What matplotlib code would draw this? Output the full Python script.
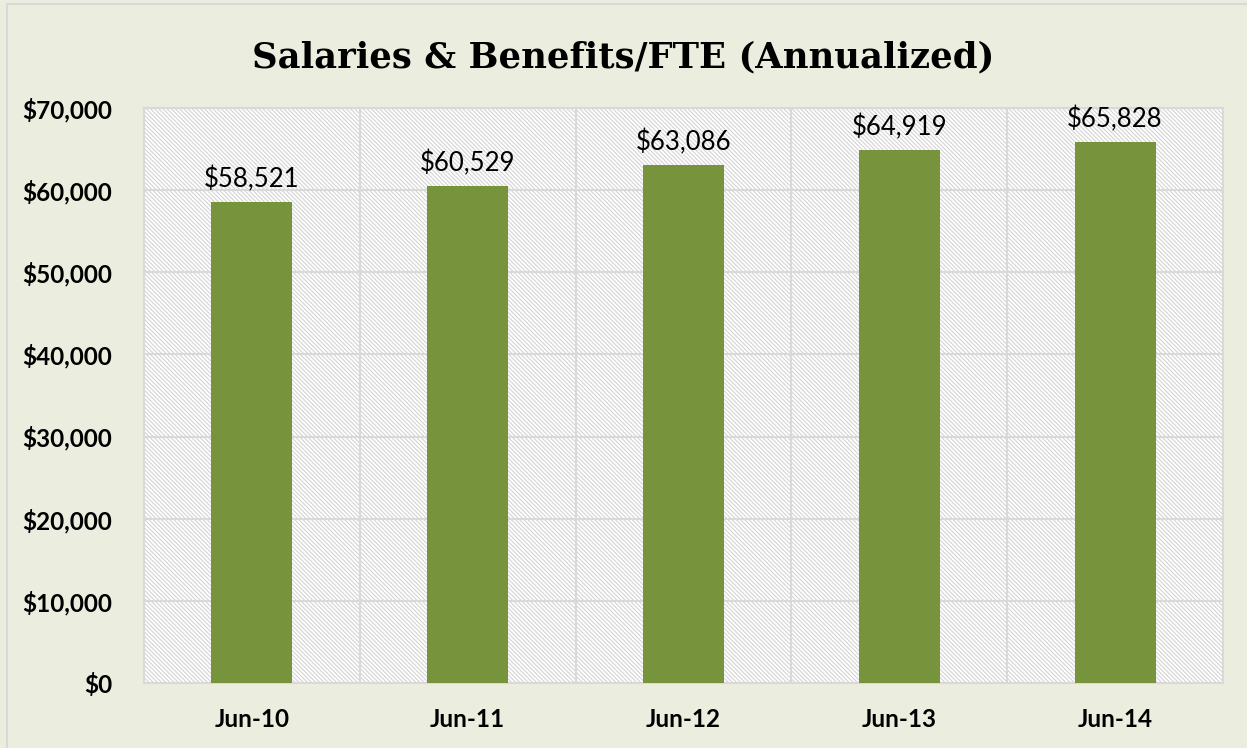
import matplotlib
matplotlib.use("Agg")
import matplotlib.pyplot as plt
from matplotlib.patches import Rectangle
from matplotlib.ticker import FuncFormatter, MultipleLocator

categories = ["Jun-10", "Jun-11", "Jun-12", "Jun-13", "Jun-14"]
values = [58521, 60529, 63086, 64919, 65828]
title = "Salaries & Benefits/FTE (Annualized)"

bg = "#EBEEDF"
bar_color = "#77933C"
grid_color = "#D9D9D9"

plt.rcParams["hatch.linewidth"] = 0.8

fig = plt.figure(figsize=(12.47, 7.48), dpi=100, facecolor=bg)

# outer chart frame
fig.patches.append(Rectangle((7 / 1247, -0.01), 1.02, 1.0 - 4 / 748 + 0.01,
                             transform=fig.transFigure, fill=False,
                             edgecolor=grid_color, linewidth=1.5, zorder=0))

ax = fig.add_axes([144 / 1247, 65 / 748, (1223 - 144) / 1247, (683 - 108) / 748])
ax.set_facecolor("white")

# diagonal hatched plot area
ax.add_patch(Rectangle((0, 0), 1, 1, transform=ax.transAxes, facecolor="white",
                       edgecolor="#D4D4D4", hatch="\\" * 8, linewidth=0, zorder=0))

x = list(range(len(categories)))
ax.bar(x, values, width=0.375, color=bar_color, zorder=3)

ax.set_xlim(-0.5, len(categories) - 0.5)
ax.set_ylim(0, 70000)
ax.yaxis.set_major_locator(MultipleLocator(10000))
ax.yaxis.set_major_formatter(FuncFormatter(lambda v, p: f"${v:,.0f}"))
ax.set_xticks(x)
ax.set_xticklabels(categories)

# gridlines: horizontal at each tick, vertical between categories
ax.grid(axis="y", color=grid_color, linewidth=1.5, zorder=1)
for b in range(1, len(categories)):
    ax.axvline(b - 0.5, color=grid_color, linewidth=1.5, zorder=1)
ax.set_axisbelow(True)

for s in ax.spines.values():
    s.set_color(grid_color)
    s.set_linewidth(1.5)

ax.tick_params(length=0)
for lbl in ax.get_yticklabels() + ax.get_xticklabels():
    lbl.set_fontfamily("Lato")
    lbl.set_fontweight("bold")
    lbl.set_fontsize(17.5)
ax.tick_params(axis="y", pad=23)
ax.tick_params(axis="x", pad=18)

for xi, v in zip(x, values):
    ax.annotate(f"${v:,}", (xi, v), xytext=(0, 7), textcoords="offset points",
                ha="center", va="bottom", fontsize=18.5, family="Lato", zorder=4)

fig.text(0.5, 1 - 57 / 748, title, ha="center", va="center",
         fontsize=25.5, fontweight="bold", family="DejaVu Serif")

fig.savefig("out.png", dpi=100, facecolor=bg)
